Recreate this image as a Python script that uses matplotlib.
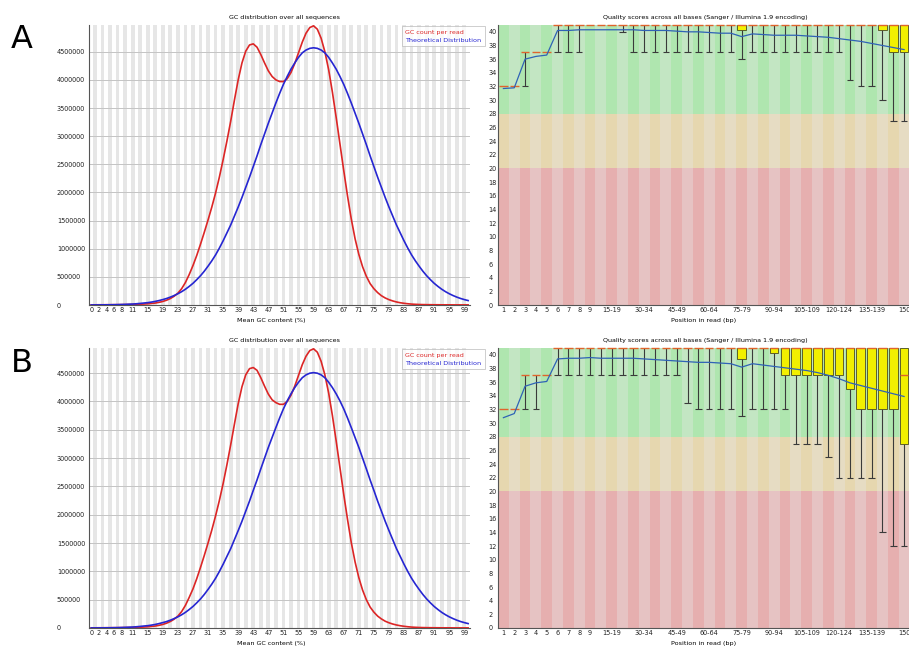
import matplotlib
matplotlib.use('Agg')
import matplotlib.pyplot as plt
import numpy as np

# ---------------- GC content panels (values in millions of reads) ----------------
gc_x = list(range(0, 101))
gc_ticks = [0, 2, 4, 6, 8, 11, 15, 19, 23, 27, 31, 35, 39, 43, 47, 51, 55, 59,
            63, 67, 71, 75, 79, 83, 87, 91, 95, 99]

gc_red_a = [0.003, 0.003, 0.004, 0.004, 0.005, 0.005, 0.006, 0.006, 0.007, 0.008,
            0.009, 0.010, 0.012, 0.014, 0.017, 0.021, 0.027, 0.035, 0.047, 0.063,
            0.085, 0.115, 0.155, 0.21, 0.29, 0.40, 0.54, 0.70, 0.88, 1.08,
            1.29, 1.51, 1.74, 1.99, 2.27, 2.58, 2.91, 3.26, 3.64, 4.00,
            4.30, 4.51, 4.62, 4.64, 4.58, 4.45, 4.30, 4.16, 4.06, 4.00,
            3.97, 3.97, 4.02, 4.13, 4.29, 4.48, 4.67, 4.83, 4.93, 4.96,
            4.90, 4.74, 4.50, 4.18, 3.78, 3.33, 2.86, 2.39, 1.94, 1.53,
            1.18, 0.90, 0.68, 0.51, 0.38, 0.29, 0.22, 0.165, 0.125, 0.095,
            0.072, 0.054, 0.040, 0.030, 0.022, 0.016, 0.012, 0.009, 0.007, 0.006,
            0.005, 0.004, 0.004, 0.003, 0.003, 0.003, 0.002, 0.002, 0.002, 0.002, 0.002]

gc_blue_a = [0.001, 0.0014, 0.0018, 0.0024, 0.003, 0.004, 0.005, 0.0067, 0.0085, 0.011,
             0.014, 0.017, 0.022, 0.028, 0.035, 0.042, 0.052, 0.064, 0.079, 0.096,
             0.116, 0.14, 0.168, 0.20, 0.237, 0.28, 0.33, 0.385, 0.45, 0.52,
             0.60, 0.69, 0.785, 0.89, 1.01, 1.14, 1.28, 1.42, 1.58, 1.74,
             1.91, 2.09, 2.27, 2.46, 2.65, 2.85, 3.04, 3.23, 3.41, 3.59,
             3.76, 3.92, 4.06, 4.19, 4.30, 4.40, 4.48, 4.53, 4.56, 4.57,
             4.56, 4.53, 4.48, 4.40, 4.30, 4.19, 4.06, 3.92, 3.76, 3.59,
             3.41, 3.23, 3.04, 2.85, 2.65, 2.46, 2.27, 2.09, 1.91, 1.74,
             1.58, 1.42, 1.28, 1.14, 1.01, 0.89, 0.785, 0.69, 0.60, 0.52,
             0.45, 0.385, 0.33, 0.28, 0.237, 0.20, 0.168, 0.14, 0.116, 0.096, 0.079]

gc_red_b = [0.003, 0.003, 0.004, 0.004, 0.005, 0.005, 0.006, 0.006, 0.007, 0.008,
            0.009, 0.010, 0.012, 0.014, 0.017, 0.021, 0.027, 0.035, 0.047, 0.063,
            0.085, 0.115, 0.155, 0.21, 0.29, 0.40, 0.54, 0.69, 0.87, 1.07,
            1.28, 1.50, 1.73, 1.98, 2.25, 2.55, 2.88, 3.23, 3.60, 3.96,
            4.26, 4.47, 4.58, 4.60, 4.55, 4.42, 4.27, 4.13, 4.03, 3.98,
            3.95, 3.95, 4.00, 4.11, 4.27, 4.46, 4.65, 4.80, 4.90, 4.93,
            4.87, 4.71, 4.47, 4.15, 3.75, 3.30, 2.83, 2.36, 1.92, 1.51,
            1.17, 0.89, 0.67, 0.50, 0.37, 0.28, 0.21, 0.16, 0.12, 0.092,
            0.070, 0.053, 0.040, 0.030, 0.022, 0.016, 0.012, 0.009, 0.007, 0.006,
            0.005, 0.004, 0.004, 0.003, 0.003, 0.003, 0.002, 0.002, 0.002, 0.002, 0.002]

gc_blue_b = [0.001, 0.0014, 0.0018, 0.0024, 0.003, 0.004, 0.005, 0.0066, 0.0084, 0.011,
             0.014, 0.017, 0.022, 0.028, 0.035, 0.041, 0.051, 0.063, 0.078, 0.095,
             0.114, 0.138, 0.166, 0.197, 0.234, 0.276, 0.326, 0.38, 0.444, 0.513,
             0.592, 0.681, 0.775, 0.878, 0.997, 1.125, 1.263, 1.40, 1.56, 1.72,
             1.885, 2.063, 2.24, 2.43, 2.615, 2.81, 3.00, 3.19, 3.365, 3.54,
             3.71, 3.87, 4.01, 4.135, 4.245, 4.34, 4.42, 4.47, 4.50, 4.51,
             4.50, 4.47, 4.42, 4.34, 4.245, 4.135, 4.01, 3.87, 3.71, 3.54,
             3.365, 3.19, 3.00, 2.81, 2.615, 2.43, 2.24, 2.063, 1.885, 1.72,
             1.56, 1.40, 1.263, 1.125, 0.997, 0.878, 0.775, 0.681, 0.592, 0.513,
             0.444, 0.38, 0.326, 0.276, 0.234, 0.197, 0.166, 0.138, 0.114, 0.095, 0.078]

# ---------------- per base quality panels ----------------
pos_labels = ['1', '2', '3', '4', '5', '6', '7', '8', '9',
              '10-14', '15-19', '20-24', '25-29', '30-34', '35-39', '40-44',
              '45-49', '50-54', '55-59', '60-64', '65-69', '70-74', '75-79',
              '80-84', '85-89', '90-94', '95-99', '100-104', '105-109',
              '110-114', '115-119', '120-124', '125-129', '130-134',
              '135-139', '140-144', '145-149', '150']
shown_labels = ['1', '2', '3', '4', '5', '6', '7', '8', '9', '15-19', '30-34',
                '45-49', '60-64', '75-79', '90-94', '105-109', '120-124',
                '135-139', '150']

mean_a = [31.7, 31.8, 36.0, 36.4, 36.6, 40.2, 40.2, 40.3, 40.3, 40.3,
          40.3, 40.3, 40.3, 40.2, 40.2, 40.2, 40.1, 40.0, 40.0, 39.9,
          39.8, 39.8, 39.3, 39.7, 39.6, 39.5, 39.5, 39.5, 39.4, 39.3,
          39.2, 39.0, 38.8, 38.6, 38.3, 38.0, 37.7, 37.4]
p10_a = [32, 32, 32, 37, 37, 37, 37, 37, 41, 41, 41, 40, 37, 37, 37, 37, 37, 37, 37,
         37, 37, 37, 36, 37, 37, 37, 37, 37, 37, 37, 37, 37, 33, 32, 32, 30, 27, 27]
q1_a = [32, 32, 37, 37, 37, 41, 41, 41, 41, 41, 41, 41, 41, 41, 41, 41, 41, 41, 41,
        41, 41, 41, 40.2, 41, 41, 41, 41, 41, 41, 41, 41, 41, 41, 41, 41, 40.2, 37, 37]
med_a = [32, 32, 37, 37, 37, 41, 41, 41, 41, 41, 41, 41, 41, 41, 41, 41, 41, 41, 41,
         41, 41, 41, 41, 41, 41, 41, 41, 41, 41, 41, 41, 41, 41, 41, 41, 41, 41, 41]
q3_a = [32, 32, 37, 37, 37, 41, 41, 41, 41, 41, 41, 41, 41, 41, 41, 41, 41, 41, 41,
        41, 41, 41, 41, 41, 41, 41, 41, 41, 41, 41, 41, 41, 41, 41, 41, 41, 41, 41]

mean_b = [30.8, 31.4, 35.4, 35.9, 36.1, 39.4, 39.5, 39.5, 39.6, 39.5,
          39.5, 39.5, 39.5, 39.4, 39.3, 39.2, 39.1, 39.0, 38.9, 38.9,
          38.8, 38.7, 38.2, 38.7, 38.5, 38.3, 38.1, 37.9, 37.7, 37.4,
          37.0, 36.5, 35.9, 35.5, 35.1, 34.7, 34.3, 33.9]
p10_b = [32, 32, 32, 32, 37, 37, 37, 37, 37, 37, 37, 37, 37, 37, 37, 37, 37, 33, 32,
         32, 32, 32, 31, 32, 32, 32, 32, 27, 27, 27, 25, 22, 22, 22, 22, 14, 12, 12]
q1_b = [32, 32, 37, 37, 37, 41, 41, 41, 41, 41, 41, 41, 41, 41, 41, 41, 41, 41, 41,
        41, 41, 41, 39.4, 41, 41, 40.3, 37, 37, 37, 37, 37, 37, 35, 32, 32, 32, 32, 27]
med_b = [32, 32, 37, 37, 37, 41, 41, 41, 41, 41, 41, 41, 41, 41, 41, 41, 41, 41, 41,
         41, 41, 41, 41, 41, 41, 41, 41, 41, 41, 41, 41, 41, 41, 41, 41, 41, 41, 37]
q3_b = [32, 32, 37, 37, 37, 41, 41, 41, 41, 41, 41, 41, 41, 41, 41, 41, 41, 41, 41,
        41, 41, 41, 41, 41, 41, 41, 41, 41, 41, 41, 41, 41, 41, 41, 41, 41, 41, 41]

W, H = 909, 647
SMALL = 4.6
TICK = 4.7


def px_axes(fig, left, top, right, bottom):
    # axes placed by pixel edges of the reference
    return fig.add_axes([left / W, 1 - bottom / H, (right - left) / W, (bottom - top) / H])


def gc_plot(ax, red, blue):
    red = np.array(red) * 1e6
    blue = np.array(blue) * 1e6
    # alternating grey columns
    for i in gc_x:
        if i % 2 == 1:
            ax.axvspan(i - 0.5, i + 0.5, color='#e6e6e6', lw=0, zorder=0)
    ax.set_axisbelow(True)
    ax.yaxis.grid(True, color='#c4c4c4', lw=0.7)
    ax.plot(gc_x, red, color='#dc2626', lw=1.2, zorder=3)
    ax.plot(gc_x, blue, color='#2626d2', lw=1.2, zorder=3)
    ax.set_xlim(-0.5, 100.5)
    ax.set_ylim(0, red.max() * 1.003)
    yt = list(range(0, 4500001, 500000))
    ax.set_yticks(yt, [str(v) for v in yt])
    ax.set_xticks(gc_ticks, [str(v) for v in gc_ticks])
    ax.tick_params(axis='both', length=0, labelsize=TICK, colors='#222222')
    ax.tick_params(axis='y', pad=23.3)
    ax.tick_params(axis='x', pad=1.5)
    for t in ax.get_yticklabels():
        t.set_horizontalalignment('left')
    for s in ['top', 'right']:
        ax.spines[s].set_visible(False)
    for s in ['left', 'bottom']:
        ax.spines[s].set_color('#555555')
        ax.spines[s].set_linewidth(0.8)
    ax.set_title('GC distribution over all sequences', fontsize=SMALL, x=0.514, y=1.0, pad=4.5)
    ax.set_xlabel('Mean GC content (%)', fontsize=SMALL)
    ax.xaxis.set_label_coords(0.479, -0.057)
    ax.xaxis.label.set_va('center')
    leg = ax.legend(['GC count per read', 'Theoretical Distribution'], loc='upper left',
                    bbox_to_anchor=(0.821, 0.998), fontsize=SMALL, handlelength=0,
                    handletextpad=0, frameon=True, fancybox=False, borderpad=0.55,
                    labelspacing=0.4, borderaxespad=0)
    leg.get_frame().set_edgecolor('#b8b8b8')
    leg.get_frame().set_linewidth(0.6)
    for h in leg.legend_handles:
        h.set_visible(False)
    for t, c in zip(leg.get_texts(), ['#dc2626', '#2626d2']):
        t.set_color(c)


def quality_plot(ax, mean, p10, q1, med, q3):
    x = np.arange(len(pos_labels))
    p10, q1, med, q3 = map(np.array, (p10, q1, med, q3))
    dark = x % 2 == 0
    # background bands: red 0-20, orange 20-28, green 28-41
    ax.bar(x, 20, bottom=0, width=1.0, lw=0, zorder=0,
           color=np.where(dark, '#e6afaf', '#e6c3c3'))
    ax.bar(x, 8, bottom=20, width=1.0, lw=0, zorder=0,
           color=np.where(dark, '#e6d7af', '#e6dcc3'))
    ax.bar(x, 13, bottom=28, width=1.0, lw=0, zorder=0,
           color=np.where(dark, '#afe6af', '#c3e6c3'))
    # whiskers with caps
    w = p10 < q1
    ax.vlines(x[w], p10[w], q1[w], color='#3a3a3a', lw=0.8, zorder=2)
    ax.hlines(p10[w], x[w] - 0.3, x[w] + 0.3, color='#3a3a3a', lw=0.8, zorder=2)
    # boxes
    b = q3 > q1
    ax.bar(x[b], q3[b] - q1[b], bottom=q1[b], width=0.8, color='#f2f000',
           edgecolor='#4a4a20', lw=0.6, zorder=3)
    # medians
    ax.hlines(med, x - 0.4, x + 0.4, color='#e0642c', lw=1.0, zorder=4, clip_on=False)
    # means
    ax.plot(x, mean, color='#2f62b6', lw=0.9, zorder=5)
    ax.set_xlim(-0.5, len(pos_labels) - 0.5)
    ax.set_ylim(0, 41)
    yt = list(range(0, 41, 2))
    ax.set_yticks(yt, [str(v) for v in yt])
    idx = [pos_labels.index(s) for s in shown_labels]
    ax.set_xticks(idx, shown_labels)
    ax.tick_params(axis='both', length=0, labelsize=TICK, colors='#222222')
    ax.tick_params(axis='y', pad=7)
    ax.tick_params(axis='x', pad=1.5)
    for t in ax.get_yticklabels():
        t.set_horizontalalignment('left')
    for s in ['top', 'right']:
        ax.spines[s].set_visible(False)
    for s in ['left', 'bottom']:
        ax.spines[s].set_color('#555555')
        ax.spines[s].set_linewidth(0.8)
    ax.set_title('Quality scores across all bases (Sanger / Illumina 1.9 encoding)',
                 fontsize=SMALL, x=0.503, y=1.0, pad=4.5)
    ax.set_xlabel('Position in read (bp)', fontsize=SMALL)
    ax.xaxis.set_label_coords(0.499, -0.057)
    ax.xaxis.label.set_va('center')


fig = plt.figure(figsize=(W / 100, H / 100), dpi=100)
fig.patch.set_facecolor('white')

ax1 = px_axes(fig, 89.3, 25, 470, 305)
gc_plot(ax1, gc_red_a, gc_blue_a)
ax2 = px_axes(fig, 498, 25, 909.5, 305)
quality_plot(ax2, mean_a, p10_a, q1_a, med_a, q3_a)

ax3 = px_axes(fig, 89.3, 348, 470, 628)
gc_plot(ax3, gc_red_b, gc_blue_b)
ax4 = px_axes(fig, 498, 348, 909.5, 628)
quality_plot(ax4, mean_b, p10_b, q1_b, med_b, q3_b)

# panel letters
fig.text(11 / W, 1 - 48 / H, 'A', fontsize=23, ha='left', va='baseline')
fig.text(11 / W, 1 - 372 / H, 'B', fontsize=23, ha='left', va='baseline')

fig.savefig('out.png', dpi=100)
